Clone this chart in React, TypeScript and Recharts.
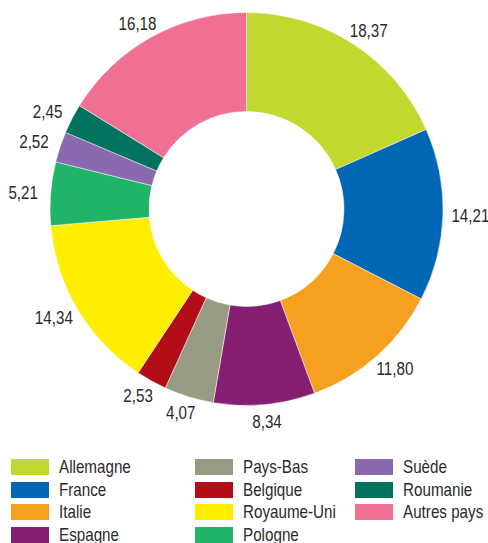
import React from "react";
import { PieChart, Pie, Cell, Legend } from "recharts";

const categories = [
  "Allemagne",
  "France",
  "Italie",
  "Espagne",
  "Pays-Bas",
  "Belgique",
  "Royaume-Uni",
  "Pologne",
  "Suède",
  "Roumanie",
  "Autres pays",
];
const values = [18.37, 14.21, 11.8, 8.34, 4.07, 2.53, 14.34, 5.21, 2.52, 2.45, 16.18];
const colors = [
  "#C3D82E",
  "#0067B4",
  "#F79F1F",
  "#851F71",
  "#989B83",
  "#B30E17",
  "#FFEE00",
  "#22B36B",
  "#8A69AE",
  "#00725E",
  "#F07094",
];

const data = categories.map((name, i) => ({ name, value: values[i], color: colors[i] }));

const FONT = "'Liberation Sans', Arial, sans-serif";
const TEXT = "#2a2a2a";
const RAD = Math.PI / 180;
const SQUEEZE = 0.8;

const fmt = (v: number) => v.toFixed(2).replace(".", ",");

const renderLabel = (props: any) => {
  const { cx, cy, midAngle, outerRadius, value } = props;
  const ux = Math.cos(-midAngle * RAD);
  const uy = Math.sin(-midAngle * RAD);
  const r = outerRadius + 9;
  const ax = cx + r * ux;
  const ay = cy + r * uy;
  const x = ax + 18.5 * ux;
  const y = ay + 7.5 * uy;
  return (
    <text
      transform={`translate(${x},${y}) scale(${SQUEEZE},1)`}
      x={0}
      y={0}
      textAnchor="middle"
      dominantBaseline="central"
      fill={TEXT}
      style={{ fontFamily: FONT, fontSize: 19 }}
    >
      {fmt(value)}
    </text>
  );
};

const colLeft = [11, 195, 355];
const rowsPerCol = 4;

const LegendContent = () => (
  <div style={{ position: "relative", width: 488, height: 90, fontFamily: FONT }}>
    {data.map((d, i) => {
      const col = Math.floor(i / rowsPerCol);
      const row = i % rowsPerCol;
      return (
        <div
          key={d.name}
          style={{
            position: "absolute",
            left: colLeft[col],
            top: row * 22.67,
            display: "flex",
            alignItems: "center",
            height: 16,
            whiteSpace: "nowrap",
          }}
        >
          <div style={{ width: 38, height: 16, background: d.color, marginRight: 10, flex: "none" }} />
          <span
            style={{
              display: "inline-block",
              fontSize: 19,
              color: TEXT,
              lineHeight: "16px",
              transform: `scaleX(${SQUEEZE})`,
              transformOrigin: "left center",
            }}
          >
            {d.name}
          </span>
        </div>
      );
    })}
  </div>
);

export default function App() {
  return (
    <div style={{ position: "absolute", left: 0, top: 0, width: 488, height: 543, background: "#fff", overflow: "hidden" }}>
      <PieChart width={488} height={543} margin={{ top: 0, right: 0, bottom: 0, left: 0 }}>
        <Pie
          data={data}
          dataKey="value"
          nameKey="name"
          cx={246.5}
          cy={209}
          outerRadius={196.5}
          innerRadius={97.5}
          startAngle={90}
          endAngle={-270}
          stroke="#ffffff"
          strokeWidth={0.5}
          label={renderLabel}
          labelLine={false}
          isAnimationActive={false}
        >
          {data.map((d) => (
            <Cell key={d.name} fill={d.color} />
          ))}
        </Pie>
        <Legend
          verticalAlign="bottom"
          content={<LegendContent />}
          wrapperStyle={{ left: 0, top: 459, width: 488, height: 90 }}
        />
      </PieChart>
    </div>
  );
}
